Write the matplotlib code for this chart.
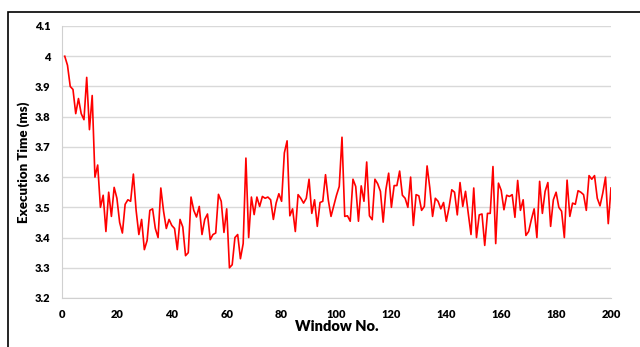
import numpy as np
import matplotlib
matplotlib.use("Agg")
import matplotlib.pyplot as plt
from matplotlib.patches import Rectangle
from matplotlib.ticker import FuncFormatter

plt.rcParams['font.family'] = ['Lato', 'DejaVu Sans']

# execution time per window
window = np.arange(1, 201)
exec_time = [
    4.00, 3.97, 3.90, 3.89, 3.81, 3.86, 3.81, 3.79, 3.93, 3.757,
    3.87, 3.60, 3.64, 3.50, 3.54, 3.42, 3.55, 3.47, 3.566, 3.53,
    3.45, 3.415, 3.51, 3.525, 3.52, 3.61, 3.49, 3.41, 3.46, 3.36,
    3.39, 3.49, 3.495, 3.43, 3.40, 3.564, 3.487, 3.43, 3.46, 3.44,
    3.43, 3.36, 3.46, 3.435, 3.34, 3.35, 3.534, 3.49, 3.468, 3.503,
    3.41, 3.46, 3.478, 3.393, 3.41, 3.415, 3.543, 3.52, 3.417, 3.495,
    3.30, 3.31, 3.40, 3.41, 3.33, 3.38, 3.663, 3.40, 3.534, 3.476,
    3.534, 3.503, 3.536, 3.53, 3.534, 3.525, 3.46, 3.514, 3.545, 3.52,
    3.68, 3.72, 3.472, 3.495, 3.42, 3.542, 3.53, 3.514, 3.53, 3.593,
    3.48, 3.525, 3.437, 3.516, 3.52, 3.608, 3.525, 3.47, 3.505, 3.54,
    3.569, 3.732, 3.47, 3.472, 3.454, 3.593, 3.569, 3.454, 3.571, 3.52,
    3.65, 3.472, 3.459, 3.593, 3.578, 3.553, 3.451, 3.559, 3.613, 3.50,
    3.572, 3.572, 3.62, 3.54, 3.53, 3.50, 3.60, 3.44, 3.542, 3.538,
    3.49, 3.503, 3.637, 3.564, 3.47, 3.53, 3.52, 3.495, 3.516, 3.454,
    3.50, 3.558, 3.55, 3.475, 3.582, 3.503, 3.553, 3.48, 3.41, 3.564,
    3.40, 3.475, 3.478, 3.374, 3.48, 3.48, 3.635, 3.38, 3.58, 3.556,
    3.492, 3.54, 3.536, 3.542, 3.467, 3.589, 3.49, 3.525, 3.407, 3.42,
    3.46, 3.495, 3.40, 3.586, 3.48, 3.553, 3.582, 3.437, 3.525, 3.55,
    3.50, 3.487, 3.40, 3.59, 3.47, 3.514, 3.51, 3.555, 3.55, 3.542,
    3.49, 3.605, 3.593, 3.605, 3.53, 3.505, 3.547, 3.60, 3.446, 3.564,
]
x_ticks = list(range(0, 201, 20))
y_ticks = [3.2, 3.3, 3.4, 3.5, 3.6, 3.7, 3.8, 3.9, 4.0, 4.1]

fig = plt.figure(figsize=(6.4, 3.47), dpi=100)
# outer chart frame, cut off on the right/bottom like the screenshot
fig.patches.append(Rectangle((8 / 640, -0.1), 1.2, 1 - 12 / 347 + 0.1,
                             transform=fig.transFigure, fill=False,
                             edgecolor="black", lw=1.2))

ax = fig.add_axes([62 / 640, 1 - 298 / 347, (611 - 62) / 640, (298 - 26) / 347])
ax.plot(window, exec_time, color="#ff0000", lw=1.2)

ax.set_xlim(0, 200)
ax.set_ylim(3.2, 4.1)
ax.set_xticks(x_ticks)
ax.set_yticks(y_ticks)
ax.yaxis.set_major_formatter(FuncFormatter(lambda v, p: "%g" % round(v, 1)))
ax.grid(axis="y", color="#d9d9d9", lw=1)
ax.set_axisbelow(True)
for s in ["top", "right"]:
    ax.spines[s].set_visible(False)
ax.spines["left"].set_color("#d0d0d0")
ax.spines["bottom"].set_color("#d0d0d0")
ax.tick_params(length=0, labelsize=8)
ax.tick_params(axis="y", pad=8.5)
ax.tick_params(axis="x", pad=8)
for lab in ax.get_xticklabels() + ax.get_yticklabels():
    lab.set_fontweight("heavy")

ax.set_xlabel("Window No.", fontsize=10.5, fontweight="heavy", labelpad=0)
ax.set_ylabel("Execution Time (ms)", fontsize=9.5, fontweight="heavy", labelpad=3)

fig.savefig("out.png", dpi=100)
